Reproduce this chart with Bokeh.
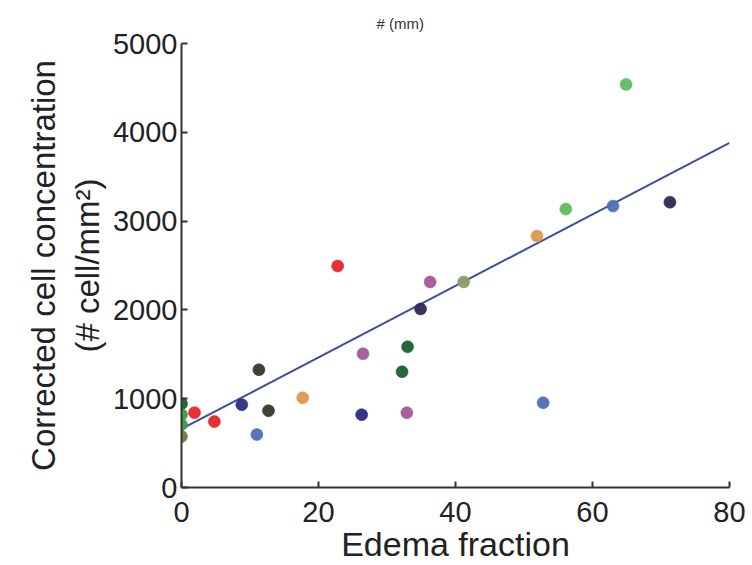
from bokeh.plotting import figure
from bokeh.models import ColumnDataSource, Range1d, FixedTicker
from bokeh.embed import file_html
from bokeh.resources import INLINE

# ---- data ----
edema_fraction = [0.0, 0.0, 0.0, 0.0, 1.9, 4.8, 8.8, 11.3, 11.0, 12.7, 17.7, 22.8, 26.3,
                  26.5, 32.2, 33.0, 32.9, 34.9, 36.3, 41.2, 51.9, 52.8, 56.1, 63.0, 64.9, 71.3]
cell_conc = [944, 820, 708, 573, 843, 742, 933, 1326, 596, 865, 1011, 2494, 820,
             1506, 1303, 1584, 843, 2011, 2315, 2315, 2831, 955, 3135, 3169, 4539, 3213]
group = [0, 1, 1, 2, 3, 3, 4, 5, 6, 5, 7, 3, 4,
         8, 0, 0, 8, 9, 8, 10, 7, 6, 11, 6, 11, 9]
fit_x = [0, 80]
fit_y = [660, 3880]
x_ticks = [0, 20, 40, 60, 80]
y_ticks = [0, 1000, 2000, 3000, 4000, 5000]
title_fragment = "# (mm)"

palette = ["#1d5e2e", "#3c9a48", "#6d7a3a", "#e3262b", "#2b2c86", "#333a28",
           "#4e6fb5", "#e09550", "#a45693", "#2a2b4e", "#8b9d68", "#5fba62"]

src = ColumnDataSource(dict(x=edema_fraction, y=cell_conc,
                            c=[palette[g] for g in group]))

font = "Liberation Sans"

p = figure(width=752, height=565, output_backend="svg", toolbar_location=None,
           x_range=Range1d(0, 80), y_range=Range1d(0, 5000),
           min_border_left=181, min_border_right=23, min_border_top=43,
           min_border_bottom=77, title=title_fragment)
p.title.text_font = font
p.title.text_font_size = "15px"
p.title.text_font_style = "normal"
p.title.text_color = "#333333"
p.title.align = "left"
p.title.offset = 195
p.title.standoff = 24

p.outline_line_color = None
p.grid.visible = False
p.background_fill_color = "white"
p.border_fill_color = "white"

p.line(fit_x, fit_y, line_color="#3b4f9e", line_width=2)
p.scatter("x", "y", source=src, size=12, fill_color="c", line_color="c",
          line_alpha=0.6, fill_alpha=0.95)

for ax in (p.xaxis[0], p.yaxis[0]):
    ax.axis_line_color = "#333333"
    ax.axis_line_width = 2
    ax.major_tick_line_color = "#333333"
    ax.major_tick_line_width = 2
    ax.major_tick_in = 6
    ax.major_tick_out = 0
    ax.minor_tick_line_color = None
    ax.major_label_text_font = font
    ax.major_label_text_font_size = "29px"
    ax.major_label_text_color = "#222222"
    ax.axis_label_text_font = font
    ax.axis_label_text_font_style = "normal"
    ax.axis_label_text_color = "#222222"

p.xaxis.ticker = FixedTicker(ticks=x_ticks)
p.yaxis.ticker = FixedTicker(ticks=y_ticks)
p.xaxis.major_label_standoff = 14
p.yaxis.major_label_standoff = 4
p.xaxis.axis_label = "Edema fraction"
p.xaxis.axis_label_text_font_size = "34px"
p.xaxis.axis_label_standoff = 0
p.yaxis.axis_label = "Corrected cell concentration\n(# cell/mm\u00b2)"
p.yaxis.axis_label_text_font_size = "33px"
p.yaxis.axis_label_standoff = 4

open("out.html", "w").write(file_html(p, INLINE))
